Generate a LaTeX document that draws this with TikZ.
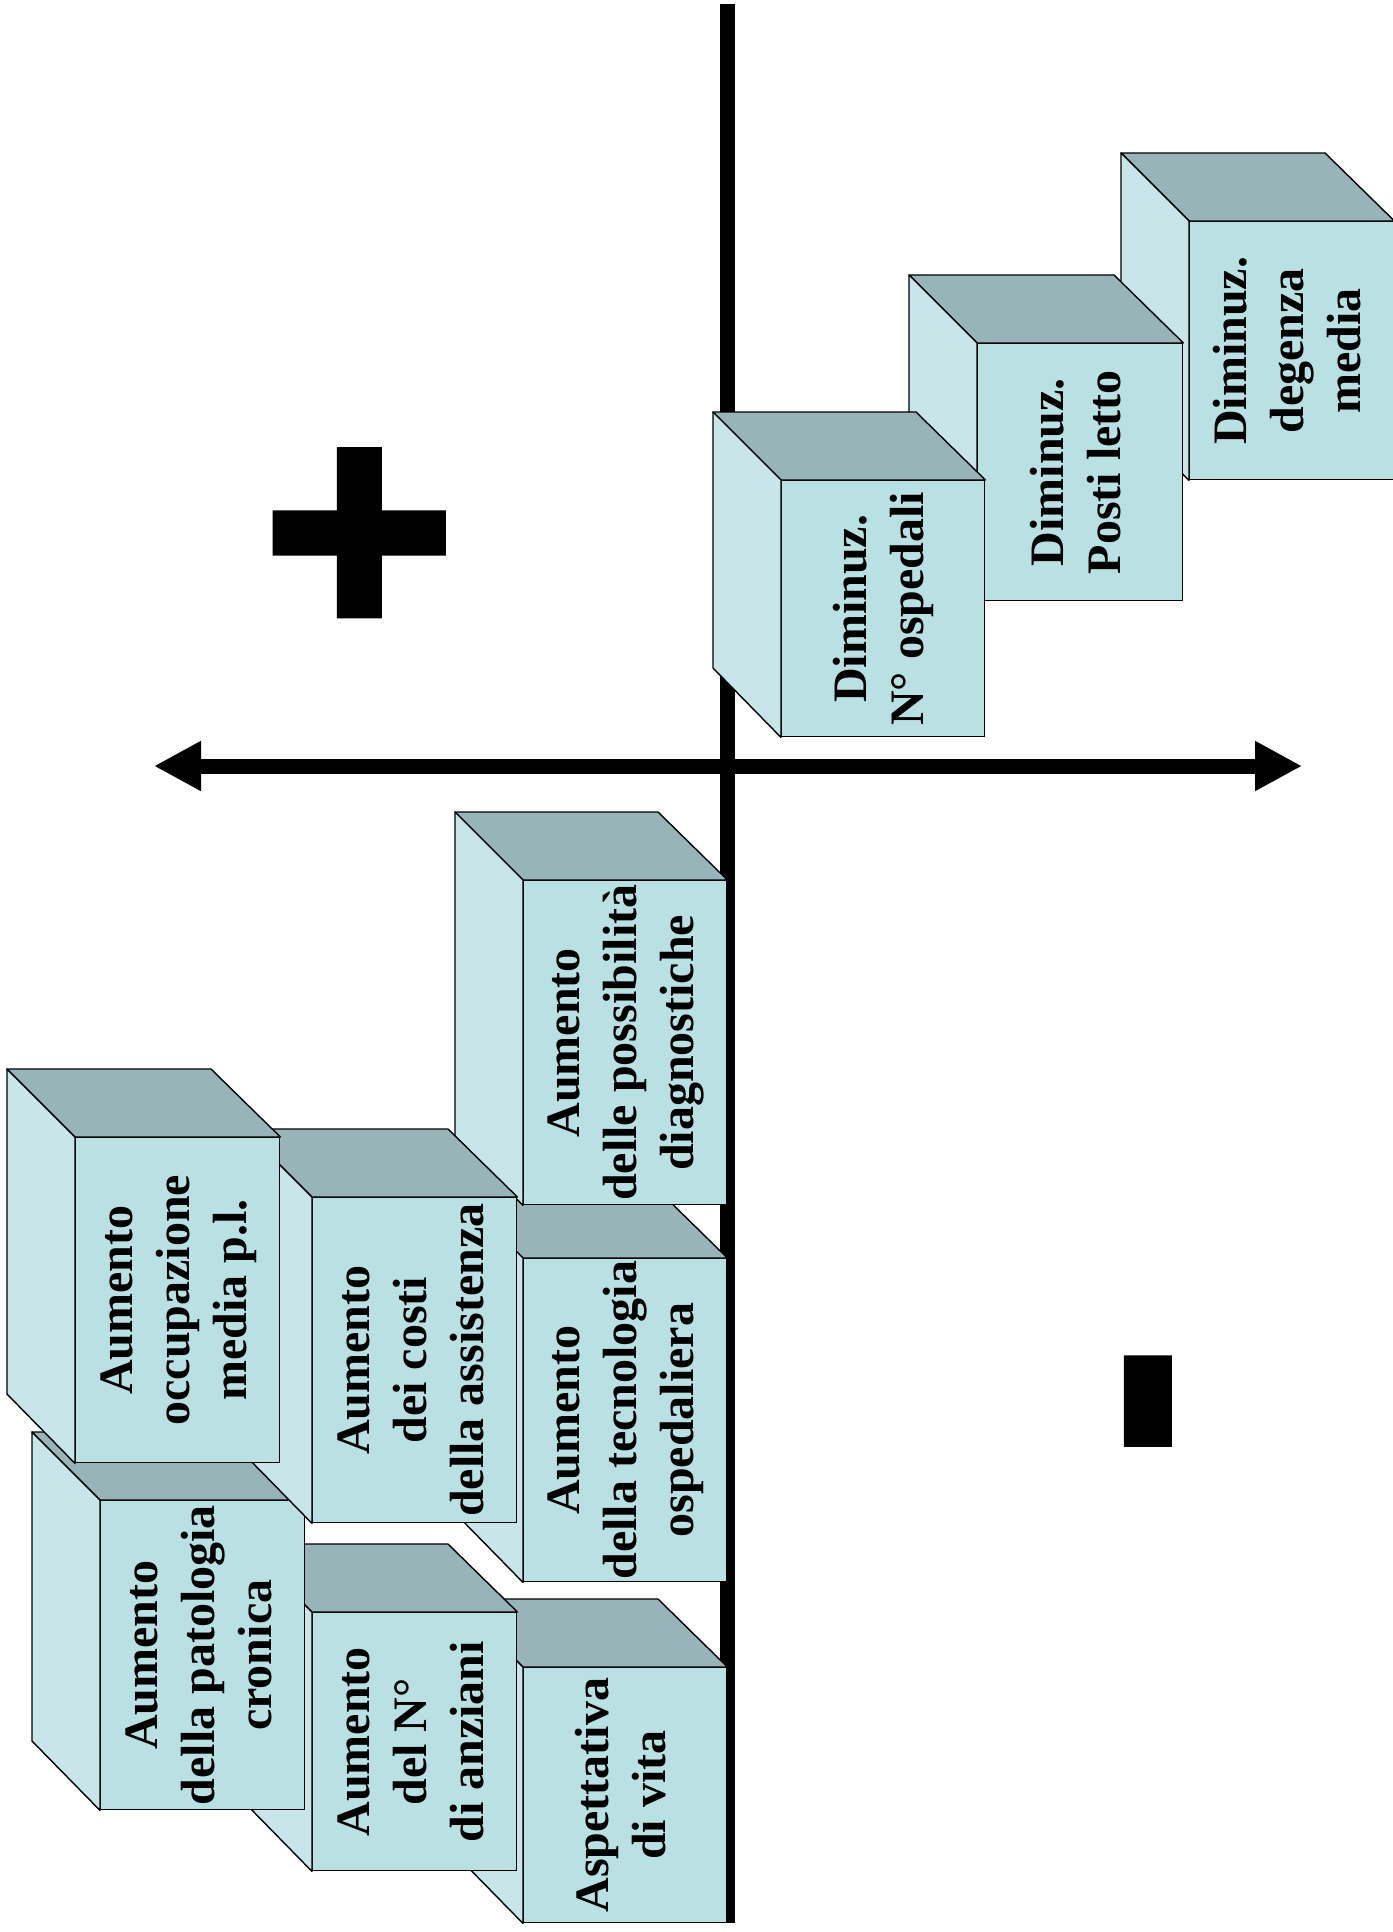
\documentclass[tikz,border=0pt]{standalone}
\usepackage{graphicx}
\usepackage{fontspec}
\setmainfont{Liberation Serif}
\newfontfamily\segnifont[FakeBold=3]{Liberation Sans Bold}
\usepackage{tikz}
\usetikzlibrary{arrows.meta}

\definecolor{faccia}{HTML}{B9E0E3}
\definecolor{fianco}{HTML}{C8E6E9}
\definecolor{tetto}{HTML}{97B4B8}

\tikzset{
  fronte/.style={shape=rectangle,draw,line width=0.7pt,fill=faccia,inner sep=0pt,anchor=north west,
    font=\bfseries\fontsize{24}{28.5}\selectfont},
  sopra/.style={draw,line width=0.7pt,fill=tetto,line join=round},
  lato/.style={draw,line width=0.7pt,fill=fianco,line join=round},
  asse/.style={line width=7.5pt},
  segno/.style={rotate=90,inner sep=0pt,font=\segnifont\fontsize{161}{161}\selectfont}
}

% cubo: nome, x, y (spigolo nord-ovest della faccia), larghezza, altezza, testo
\newcommand{\cubo}[6]{%
  \node(#1)[fronte,minimum width=#4*0.5pt,minimum height=#5*0.5pt] at (#2,#3)
    {\rotatebox{90}{\begin{tabular}{@{}c@{}}#6\end{tabular}}};
  \draw[sopra] (#1.north west)--++(-68,-68)--++(#4,0)--(#1.north east)--cycle;
  \draw[lato] (#1.north west)--++(-68,-68)--++(0,#5)--(#1.south west)--cycle;
}

\begin{document}
\begin{tikzpicture}[x=0.5pt,y=-0.5pt]
\useasboundingbox (0,0) rectangle (1392,1932);

\coordinate(alto) at (727.5,4);
\coordinate(basso) at (727.5,1923);
\coordinate(sx) at (154,766);
\coordinate(dx) at (1302,766);
\draw[asse] (alto)--(basso);
\draw[asse,{Triangle[length=23.5pt,width=23.5pt]}-{Triangle[length=23.5pt,width=23.5pt]}] (sx)--(dx);

\node(piu)[segno] at (372,533){+};
\node(meno)[segno] at (1180,1401){-};

\cubo{degenza}{1189}{221}{204}{258}{Diminuz.\\ degenza\\ media}
\cubo{posti}{977}{343}{205}{257}{Diminuz.\\ Posti letto}
\cubo{ospedali}{781}{480}{203}{256}{Diminuz.\\ N° ospedali}

\cubo{vita}{523}{1667}{203}{255}{Aspettativa\\ di vita}
\cubo{tecnologia}{523}{1258}{203}{323}{Aumento\\ della tecnologia\\ ospedaliera}
\cubo{diagnosi}{523}{880}{203}{324}{Aumento\\ delle possibilità\\ diagnostiche}
\cubo{anziani}{312}{1612}{204}{258}{Aumento\\ del N°\\ di anziani}
\cubo{cronica}{100}{1500}{204}{309}{Aumento\\ della patologia\\ cronica}
\cubo{costi}{312}{1197}{204}{325}{Aumento\\ dei costi\\ della assistenza}
\cubo{occupazione}{75}{1137}{204}{325}{Aumento\\ occupazione\\ media p.l.}
\end{tikzpicture}
\end{document}
